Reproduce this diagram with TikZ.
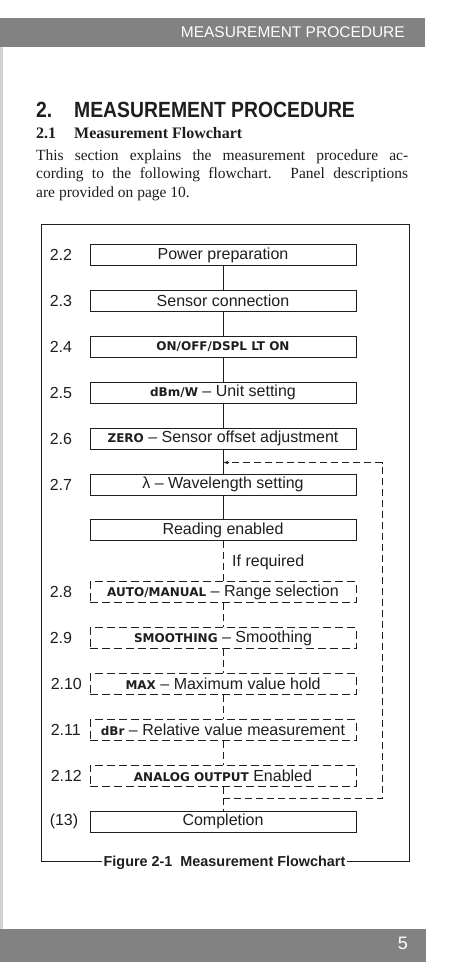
\documentclass[tikz,border=0pt]{standalone}
\usepackage{fontspec}
\setmainfont{Liberation Serif}
\setsansfont{Liberation Sans}
\newfontfamily\keyfont{DejaVu Sans}
\usepackage{xcolor}
\definecolor{bargray}{HTML}{828282}
\definecolor{edgegray}{HTML}{D2D2D2}
\definecolor{ink}{HTML}{1E1E1E}
\usetikzlibrary{arrows.meta, positioning}
\newcommand{\panelkey}[1]{{\keyfont\bfseries\fontsize{12}{12}\selectfont #1}}

\begin{document}
\begin{tikzpicture}[
  x=1pt, y=-1pt, color=ink,
  node distance=24pt,
  stepbox/.style={rectangle, draw=ink, line width=0.9pt, minimum width=266pt,
    minimum height=21pt, inner sep=0pt, font=\sffamily\fontsize{16}{16}\selectfont},
  optbox/.style={stepbox, dash pattern=on 8pt off 4pt},
  num/.style={anchor=west, inner sep=0pt, font=\sffamily\fontsize{16}{16}\selectfont},
  txt/.style={anchor=base west, inner sep=0pt},
  flow/.style={draw=ink, line width=0.9pt},
  optline/.style={flow, dash pattern=on 7pt off 4pt}
]
\useasboundingbox (0,0) rectangle (454,964);
% page furniture
\fill[bargray] (0,18) rectangle (425,47);
\fill[edgegray] (0,47) rectangle (2.5,929);
\fill[bargray] (0,929) rectangle (425.5,962);
\node[anchor=east, inner sep=0pt, text=white, font=\sffamily\fontsize{15.5}{15.5}\selectfont] (runhead) at (405,32) {MEASUREMENT PROCEDURE};
\node[anchor=east, inner sep=0pt, text=white, font=\sffamily\fontsize{18}{18}\selectfont] (pageno) at (408,943.5) {5};

% headings and text
\node[txt, font=\sffamily\bfseries\fontsize{22}{22}\selectfont] (secnum) at (36,117) {\scalebox{0.88}[1]{2.}};
\node[txt, font=\sffamily\bfseries\fontsize{22}{22}\selectfont] (sectitle) at (74,117) {\scalebox{0.88}[1]{MEASUREMENT PROCEDURE}};
\node[txt, font=\bfseries\fontsize{16}{16}\selectfont] (subnum) at (36,138) {2.1};
\node[txt, font=\bfseries\fontsize{16}{16}\selectfont] (subtitle) at (74,138) {Measurement Flowchart};
\node[txt, font=\fontsize{15.5}{18.5}\selectfont] (line1) at (36,160) {\makebox[372pt][s]{This section explains the measurement procedure ac-}};
\node[txt, font=\fontsize{15.5}{18.5}\selectfont] (line2) at (36,178.5) {\makebox[372pt][s]{cording to the following flowchart. Panel descriptions}};
\node[txt, font=\fontsize{15.5}{18.5}\selectfont] (line3) at (36,197) {are provided on page 10.};

% steps
\node[stepbox] (b22) at (223,255) {Power preparation};
\node[stepbox, below=of b22] (b23) {Sensor connection};
\node[stepbox, below=of b23] (b24) {\panelkey{ON/OFF/DSPL LT ON}};
\node[stepbox, below=of b24] (b25) {\panelkey{dBm/W} -- Unit setting};
\node[stepbox, below=of b25] (b26) {\panelkey{ZERO} -- Sensor offset adjustment};
\node[stepbox, below=of b26] (b27) {λ -- Wavelength setting};
\node[stepbox, below=of b27] (bread) {Reading enabled};
\node[optbox, below=40pt of bread] (b28) {\panelkey{AUTO/MANUAL} -- Range selection};
\node[optbox, below=of b28] (b29) {\panelkey{SMOOTHING} -- Smoothing};
\node[optbox, below=of b29] (b210) {\panelkey{MAX} -- Maximum value hold};
\node[optbox, below=of b210] (b211) {\panelkey{dBr} -- Relative value measurement};
\node[optbox, below=of b211] (b212) {\panelkey{ANALOG OUTPUT} Enabled};
\node[stepbox, below=of b212] (bdone) {Completion};

% step numbers
\node[num] (n22) at ([xshift=-40pt]b22.west) {2.2};
\node[num] (n23) at ([xshift=-40pt]b23.west) {2.3};
\node[num] (n24) at ([xshift=-40pt]b24.west) {2.4};
\node[num] (n25) at ([xshift=-40pt]b25.west) {2.5};
\node[num] (n26) at ([xshift=-40pt]b26.west) {2.6};
\node[num] (n27) at ([xshift=-40pt]b27.west) {2.7};
\node[num] (n28) at ([xshift=-40pt]b28.west) {2.8};
\node[num] (n29) at ([xshift=-40pt]b29.west) {2.9};
\node[num] (n210) at ([xshift=-39pt]b210.west) {2.10};
\node[num] (n211) at ([xshift=-39pt]b211.west) {2.11};
\node[num] (n212) at ([xshift=-39pt]b212.west) {2.12};
\node[num] (n13) at ([xshift=-40pt]bdone.west) {(13)};
\node[num] (ifreq) at (232,562) {If required};

% connectors
\draw[flow] (b22)--(b23); \draw[flow] (b23)--(b24); \draw[flow] (b24)--(b25);
\draw[flow] (b25)--(b26); \draw[flow] (b26)--(b27); \draw[flow] (b27)--(bread);
\draw[optline] (bread)--(b28); \draw[optline] (b28)--(b29); \draw[optline] (b29)--(b210);
\draw[optline] (b210)--(b211); \draw[optline] (b211)--(b212); \draw[optline] (b212)--(bdone);
\coordinate[below=13pt of b26] (loopin);
\coordinate[below=12pt of b212] (loopout);
\draw[optline, -{Latex[open, length=5pt, width=3.5pt]}] (loopout) -- ++(159,0) |- (loopin);

% frame and caption
\node[anchor=base, inner xsep=1.5pt, font=\sffamily\bfseries\fontsize{14.4}{14.4}\selectfont] (caption) at (224.5,866.5) {Figure 2-1\hspace{8pt}Measurement Flowchart};
\coordinate (fbl) at (41,861); \coordinate (fbr) at (409,861);
\draw[flow] (caption.west |- fbl) -- (fbl) -- (41,224.5) -- (409,224.5) -- (fbr) -- (caption.east |- fbr);
\end{tikzpicture}
\end{document}
